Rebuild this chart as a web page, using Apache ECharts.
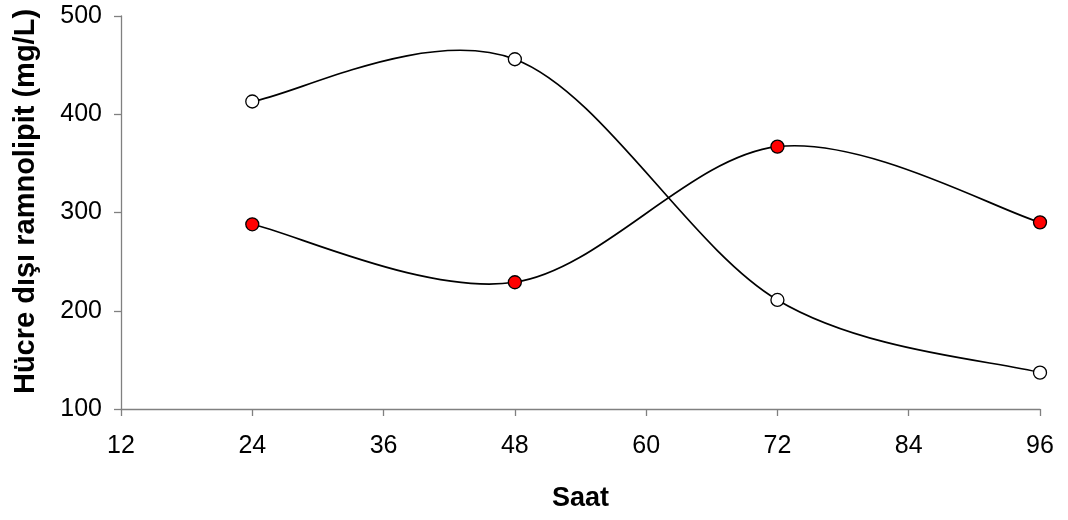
<!DOCTYPE html>
<html><head><meta charset="utf-8">
<script src="https://cdn.jsdelivr.net/npm/echarts@6/dist/echarts.min.js"></script>
<style>html,body{margin:0;padding:0;background:#fff}#c{width:1068px;height:520px}</style>
</head><body><div id="c"></div>
<script>
const hours = [24, 48, 72, 96];
const seriesWhite = [413, 456, 211, 137];
const seriesRed = [288, 229, 367, 290];
const xTicks = { min: 12, max: 96, interval: 12 };
const yTicks = { min: 100, max: 500, interval: 100 };

const chart = echarts.init(document.getElementById('c'), null, { renderer: 'canvas' });
const font = 'Liberation Sans, Arial, sans-serif';
const axisLine = { lineStyle: { color: '#808080', width: 1.3 } };
const axisTick = { inside: false, length: 7, lineStyle: { color: '#808080', width: 1.3 } };
function mk(vals) { return hours.map((h, i) => [h, vals[i]]); }

// Excel-like smoothed curve (Catmull-Rom Bezier) drawn through the chart's scales
function curveSeries(vals) {
  const data = mk(vals);
  return {
    type: 'custom', data: data, z: 2, silent: true,
    renderItem: function (params, api) {
      const i = params.dataIndex;
      if (i >= data.length - 1) return null;
      const P = data.map(d => api.coord(d));
      const p0 = P[Math.max(i - 1, 0)], p1 = P[i], p2 = P[i + 1], p3 = P[Math.min(i + 2, P.length - 1)];
      const k = 1 / 6;
      return {
        type: 'bezierCurve',
        shape: {
          x1: p1[0], y1: p1[1], x2: p2[0], y2: p2[1],
          cpx1: p1[0] + (p2[0] - p0[0]) * k, cpy1: p1[1] + (p2[1] - p0[1]) * k,
          cpx2: p2[0] - (p3[0] - p1[0]) * k, cpy2: p2[1] - (p3[1] - p1[1]) * k
        },
        style: { stroke: '#000', fill: null, lineWidth: 1.7 }
      };
    }
  };
}
function markerSeries(vals, color) {
  return { type: 'line', data: mk(vals), z: 3, symbol: 'circle', symbolSize: 13,
    lineStyle: { opacity: 0, width: 0 },
    itemStyle: { color: color, borderColor: '#000', borderWidth: 1.3 } };
}

chart.setOption({
  animation: false,
  grid: { left: 121, right: 28, top: 16, bottom: 111, containLabel: false },
  xAxis: {
    type: 'value', min: xTicks.min, max: xTicks.max, interval: xTicks.interval,
    name: 'Saat', nameLocation: 'middle', nameGap: 76,
    nameTextStyle: { fontFamily: font, fontSize: 27, fontWeight: 'bold', color: '#000' },
    axisLine, axisTick, splitLine: { show: false },
    axisLabel: { fontFamily: font, fontSize: 25, color: '#000', margin: 25 }
  },
  yAxis: {
    type: 'value', min: yTicks.min, max: yTicks.max, interval: yTicks.interval,
    name: 'Hücre dışı ramnolipit (mg/L)', nameLocation: 'middle', nameGap: 81,
    nameTextStyle: { fontFamily: font, fontSize: 29, fontWeight: 'bold', color: '#000', padding: [0, 0, 0, 22] },
    axisLine: Object.assign({ show: true }, axisLine), axisTick: Object.assign({ show: true }, axisTick),
    splitLine: { show: false },
    axisLabel: { fontFamily: font, fontSize: 25, color: '#000', margin: 19 }
  },
  series: [
    curveSeries(seriesWhite),
    curveSeries(seriesRed),
    markerSeries(seriesWhite, '#ffffff'),
    markerSeries(seriesRed, '#ff0000')
  ]
});
</script></body></html>
